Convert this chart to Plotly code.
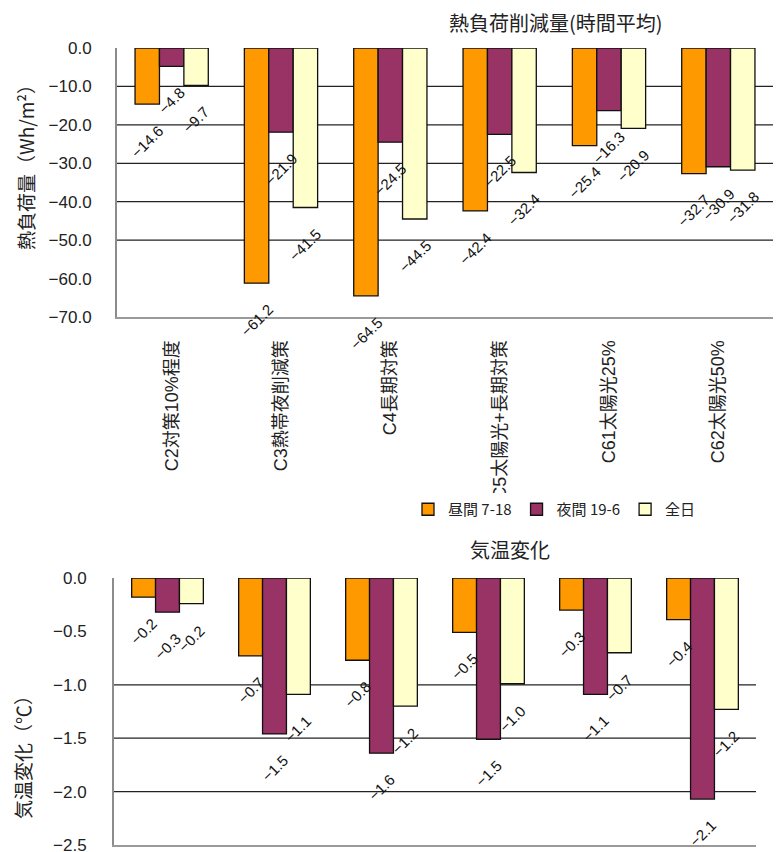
import plotly.graph_objects as go

# --- data -------------------------------------------------------------
categories = ["C2対策10%程度", "C3熱帯夜削減策", "C4長期対策",
              "C5太陽光+長期対策", "C61太陽光25%", "C62太陽光50%"]
series_names = ["昼間 7-18", "夜間 19-6", "全日"]
series_colors = ["#FF9900", "#993366", "#FFFFCC"]

# heat-load reduction (Wh/m2, hourly average)
load_day = [-14.6, -61.2, -64.5, -42.4, -25.4, -32.7]
load_night = [-4.8, -21.9, -24.5, -22.5, -16.3, -30.9]
load_all = [-9.7, -41.5, -44.5, -32.4, -20.9, -31.8]

# air temperature change (deg C)
temp_day = [-0.18, -0.73, -0.77, -0.51, -0.30, -0.39]
temp_night = [-0.32, -1.46, -1.64, -1.51, -1.09, -2.07]
temp_all = [-0.24, -1.09, -1.20, -0.99, -0.70, -1.23]

load_grid = [-10, -20, -30, -40, -50]
temp_grid = [-1.0, -1.5, -2.0]

# --- layout constants --------------------------------------------------
W, H = 776, 852
BARGAP = 0.33
BW = (1 - BARGAP) / 3
LAT = "Liberation Sans, Noto Sans CJK JP, sans-serif"
CJK = "Noto Sans CJK JP, sans-serif"

def px_x(p):
    return p / W

def px_y(p):
    return 1 - p / H

fig = go.Figure()
xs = list(range(len(categories)))

load_series = [load_day, load_night, load_all]
temp_series = [temp_day, temp_night, temp_all]

for k, (name, col) in enumerate(zip(series_names, series_colors)):
    fig.add_trace(go.Bar(
        x=xs, y=load_series[k], name=name, xaxis="x", yaxis="y",
        marker=dict(color=col, line=dict(color="#111111", width=1.3)),
        showlegend=True, hoverinfo="skip"))
for k, (name, col) in enumerate(zip(series_names, series_colors)):
    fig.add_trace(go.Bar(
        x=xs, y=temp_series[k], name=name, xaxis="x2", yaxis="y2",
        marker=dict(color=col, line=dict(color="#111111", width=1.3)),
        showlegend=False, hoverinfo="skip"))

annotations = []
# rotated value labels under each bar end
for series, xr, yr in ((load_series, "x", "y"), (temp_series, "x2", "y2")):
    for k, vals in enumerate(series):
        for i, v in enumerate(vals):
            annotations.append(dict(
                x=i + (k - 1) * BW, y=v, xref=xr, yref=yr,
                text=f"{v:.1f}".replace("-", "\u2212"), showarrow=False,
                textangle=-45, yanchor="top", xanchor="center", yshift=-15,
                font=dict(family=LAT, size=15, color="#111111")))

def paper_text(x, y, text, angle=0, size=19):
    return dict(x=px_x(x), y=px_y(y), xref="paper", yref="paper",
                text=text, showarrow=False, textangle=angle,
                xanchor="center", yanchor="middle",
                font=dict(family=CJK, size=size, color="#222222"))

# chart titles
annotations.append(paper_text(556, 22, "熱負荷削減量(時間平均)", size=20))
annotations.append(paper_text(510, 549, "気温変化", size=20))
# axis titles
annotations.append(paper_text(25, 163, "熱負荷量（Wh/m²）", angle=-90))
annotations.append(paper_text(22, 753, "気温変化（℃）", angle=-90))

shapes = []
for g in load_grid:
    shapes.append(dict(type="line", xref="x domain", yref="y", x0=0, x1=1,
                       y0=g, y1=g, line=dict(color="#222222", width=1.3),
                       layer="below"))
for g in temp_grid:
    shapes.append(dict(type="line", xref="x2 domain", yref="y2", x0=0, x1=1,
                       y0=g, y1=g, line=dict(color="#222222", width=1.3),
                       layer="below"))

top_dom_x = [px_x(117), px_x(773)]
top_dom_y = [px_y(317), px_y(48)]
bot_dom_x = [px_x(114), px_x(756)]
bot_dom_y = [px_y(845), px_y(578)]
bounds = [i - 0.5 for i in range(len(categories) + 1)]
xrange_ = [-0.5, len(categories) - 0.5]

fig.update_layout(
    width=W, height=H, margin=dict(l=0, r=0, t=0, b=0, autoexpand=False),
    paper_bgcolor="white", plot_bgcolor="white",
    barmode="group", bargap=BARGAP, bargroupgap=0,
    showlegend=True,
    legend=dict(orientation="h", x=px_x(408), y=px_y(493), xanchor="left",
                yanchor="top", bgcolor="white",
                font=dict(family=CJK, size=15, color="#222222"),
                itemwidth=30, tracegroupgap=0),
    xaxis=dict(domain=top_dom_x, anchor="y", range=xrange_, automargin=False,
               tickmode="array", tickvals=xs, ticktext=categories,
               tickangle=-90, ticks="", ticklabelstandoff=14,
               showline=True, linecolor="#9a9a9a", linewidth=2,
               showgrid=False, zeroline=False,
               tickfont=dict(family=LAT, size=18, color="#222222")),
    xaxis3=dict(domain=top_dom_x, anchor="y", overlaying="x", side="top",
                range=xrange_, tickmode="array", tickvals=bounds,
                automargin=False,
                ticks="outside", ticklen=6, tickcolor="#777777",
                showticklabels=False, showline=True, linecolor="#111111",
                linewidth=1.5, showgrid=False, zeroline=False),
    yaxis=dict(domain=top_dom_y, anchor="x", range=[-70, 0], dtick=10,
               automargin=False, ticklabeloverflow="allow",
               tickformat=".1f", showgrid=False, zeroline=False,
               showline=True, linecolor="#8c8c8c", linewidth=2,
               ticks="", ticklabelstandoff=20,
               tickfont=dict(family=LAT, size=17, color="#222222")),
    xaxis2=dict(domain=bot_dom_x, anchor="y2", range=xrange_,
                automargin=False,
                showticklabels=False, ticks="", showline=True,
                linecolor="#9a9a9a", linewidth=2, showgrid=False,
                zeroline=False),
    xaxis4=dict(domain=bot_dom_x, anchor="y2", overlaying="x2", side="top",
                range=xrange_, tickmode="array", tickvals=bounds,
                automargin=False,
                ticks="outside", ticklen=6, tickcolor="#777777",
                showticklabels=False, showline=True, linecolor="#111111",
                linewidth=1.5, showgrid=False, zeroline=False),
    yaxis2=dict(domain=bot_dom_y, anchor="x2", range=[-2.5, 0],
                tickmode="array", tickvals=[0, -0.5, -1.0, -1.5, -2.0, -2.5],
                automargin=False, ticklabeloverflow="allow",
                tickformat=".1f", showgrid=False, zeroline=False,
                showline=True, linecolor="#8c8c8c", linewidth=2,
                ticks="", ticklabelstandoff=22,
                tickfont=dict(family=LAT, size=17, color="#222222")),
    annotations=annotations, shapes=shapes,
)

fig.write_html("out.html")
